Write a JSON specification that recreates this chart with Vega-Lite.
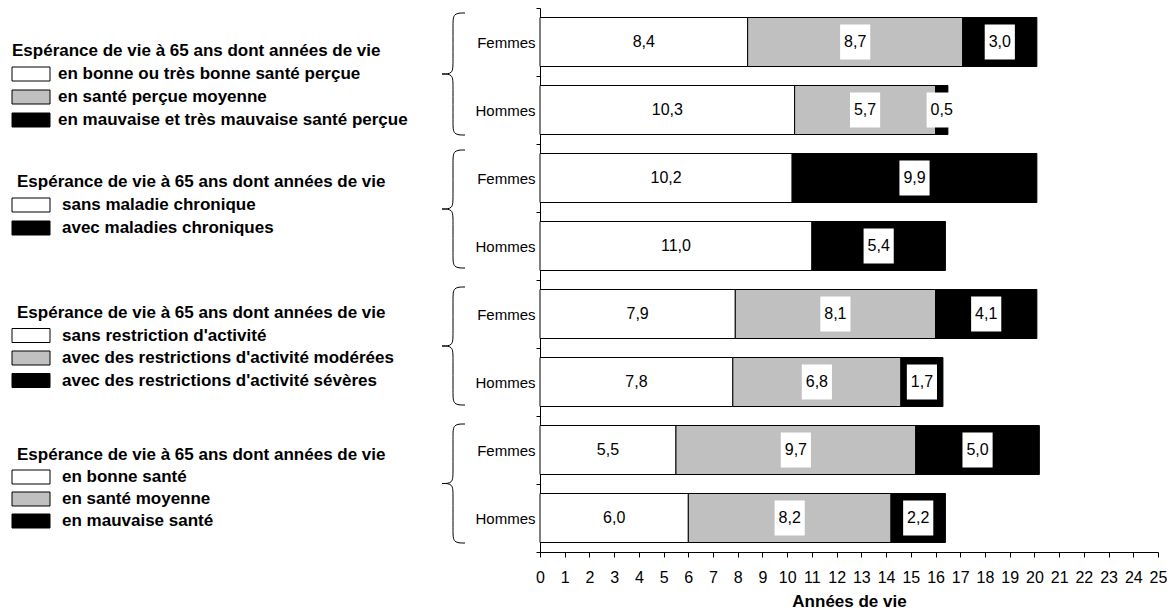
{
  "$schema": "https://vega.github.io/schema/vega-lite/v6.json",
  "width": 618,
  "height": 544,
  "padding": {"left": 11, "top": 1, "right": 0, "bottom": 0},
  "background": "white",
  "config": {
    "view": {"stroke": null},
    "font": "Liberation Sans"
  },
  "datasets": {
    "bars": [
      {"row": "1 Femmes", "cat": "a", "value": 8.4},
      {"row": "1 Femmes", "cat": "b", "value": 8.7},
      {"row": "1 Femmes", "cat": "c", "value": 3.0},
      {"row": "1 Hommes", "cat": "a", "value": 10.3},
      {"row": "1 Hommes", "cat": "b", "value": 5.7},
      {"row": "1 Hommes", "cat": "c", "value": 0.5},
      {"row": "2 Femmes", "cat": "a", "value": 10.2},
      {"row": "2 Femmes", "cat": "c", "value": 9.9},
      {"row": "2 Hommes", "cat": "a", "value": 11.0},
      {"row": "2 Hommes", "cat": "c", "value": 5.4},
      {"row": "3 Femmes", "cat": "a", "value": 7.9},
      {"row": "3 Femmes", "cat": "b", "value": 8.1},
      {"row": "3 Femmes", "cat": "c", "value": 4.1},
      {"row": "3 Hommes", "cat": "a", "value": 7.8},
      {"row": "3 Hommes", "cat": "b", "value": 6.8},
      {"row": "3 Hommes", "cat": "c", "value": 1.7},
      {"row": "4 Femmes", "cat": "a", "value": 5.5},
      {"row": "4 Femmes", "cat": "b", "value": 9.7},
      {"row": "4 Femmes", "cat": "c", "value": 5.0},
      {"row": "4 Hommes", "cat": "a", "value": 6.0},
      {"row": "4 Hommes", "cat": "b", "value": 8.2},
      {"row": "4 Hommes", "cat": "c", "value": 2.2}
    ],
    "legendtext": [
      {"lx": 12, "ly": 43, "label": "Espérance de vie à 65 ans dont années de vie"},
      {"lx": 58, "ly": 66, "label": "en bonne ou très bonne santé perçue"},
      {"lx": 58, "ly": 89, "label": "en santé perçue moyenne"},
      {"lx": 58, "ly": 112, "label": "en mauvaise et très mauvaise santé perçue"},
      {"lx": 17, "ly": 174, "label": "Espérance de vie à 65 ans dont années de vie"},
      {"lx": 62, "ly": 197, "label": "sans maladie chronique"},
      {"lx": 62, "ly": 220, "label": "avec maladies chroniques"},
      {"lx": 17, "ly": 305, "label": "Espérance de vie à 65 ans dont années de vie"},
      {"lx": 62, "ly": 327.5, "label": "sans restriction d'activité"},
      {"lx": 62, "ly": 350, "label": "avec des restrictions d'activité modérées"},
      {"lx": 62, "ly": 372.5, "label": "avec des restrictions d'activité sévères"},
      {"lx": 17, "ly": 447, "label": "Espérance de vie à 65 ans dont années de vie"},
      {"lx": 62, "ly": 469, "label": "en bonne santé"},
      {"lx": 62, "ly": 491, "label": "en santé moyenne"},
      {"lx": 62, "ly": 513, "label": "en mauvaise santé"}
    ],
    "swatch": [
      {"sx0": 12, "sx1": 50, "sy0": 59, "sy1": 73, "cat": "a"},
      {"sx0": 12, "sx1": 50, "sy0": 82, "sy1": 96, "cat": "b"},
      {"sx0": 12, "sx1": 50, "sy0": 105, "sy1": 119, "cat": "c"},
      {"sx0": 12, "sx1": 50, "sy0": 190, "sy1": 204, "cat": "a"},
      {"sx0": 12, "sx1": 50, "sy0": 213, "sy1": 227, "cat": "c"},
      {"sx0": 12, "sx1": 50, "sy0": 320.5, "sy1": 334.5, "cat": "a"},
      {"sx0": 12, "sx1": 50, "sy0": 343, "sy1": 357, "cat": "b"},
      {"sx0": 12, "sx1": 50, "sy0": 365.5, "sy1": 379.5, "cat": "c"},
      {"sx0": 12, "sx1": 50, "sy0": 462, "sy1": 476, "cat": "a"},
      {"sx0": 12, "sx1": 50, "sy0": 484, "sy1": 498, "cat": "b"},
      {"sx0": 12, "sx1": 50, "sy0": 506, "sy1": 520, "cat": "c"}
    ],
    "brace": [
      {"seg": "1t", "o": 0, "bx": 465, "by": 5},
      {"seg": "1t", "o": 1, "bx": 453, "by": 5},
      {"seg": "1t", "o": 2, "bx": 453, "by": 16},
      {"seg": "1t", "o": 3, "bx": 453, "by": 55},
      {"seg": "1t", "o": 4, "bx": 453, "by": 66},
      {"seg": "1t", "o": 5, "bx": 442, "by": 66},
      {"seg": "1b", "o": 0, "bx": 442, "by": 66},
      {"seg": "1b", "o": 1, "bx": 453, "by": 66},
      {"seg": "1b", "o": 2, "bx": 453, "by": 77},
      {"seg": "1b", "o": 3, "bx": 453, "by": 116},
      {"seg": "1b", "o": 4, "bx": 453, "by": 127},
      {"seg": "1b", "o": 5, "bx": 465, "by": 127},
      {"seg": "2t", "o": 0, "bx": 465, "by": 142},
      {"seg": "2t", "o": 1, "bx": 453, "by": 142},
      {"seg": "2t", "o": 2, "bx": 453, "by": 153},
      {"seg": "2t", "o": 3, "bx": 453, "by": 190},
      {"seg": "2t", "o": 4, "bx": 453, "by": 201},
      {"seg": "2t", "o": 5, "bx": 442, "by": 201},
      {"seg": "2b", "o": 0, "bx": 442, "by": 201},
      {"seg": "2b", "o": 1, "bx": 453, "by": 201},
      {"seg": "2b", "o": 2, "bx": 453, "by": 212},
      {"seg": "2b", "o": 3, "bx": 453, "by": 249},
      {"seg": "2b", "o": 4, "bx": 453, "by": 260},
      {"seg": "2b", "o": 5, "bx": 465, "by": 260},
      {"seg": "3t", "o": 0, "bx": 465, "by": 279},
      {"seg": "3t", "o": 1, "bx": 453, "by": 279},
      {"seg": "3t", "o": 2, "bx": 453, "by": 290},
      {"seg": "3t", "o": 3, "bx": 453, "by": 327},
      {"seg": "3t", "o": 4, "bx": 453, "by": 338},
      {"seg": "3t", "o": 5, "bx": 442, "by": 338},
      {"seg": "3b", "o": 0, "bx": 442, "by": 338},
      {"seg": "3b", "o": 1, "bx": 453, "by": 338},
      {"seg": "3b", "o": 2, "bx": 453, "by": 349},
      {"seg": "3b", "o": 3, "bx": 453, "by": 386},
      {"seg": "3b", "o": 4, "bx": 453, "by": 397},
      {"seg": "3b", "o": 5, "bx": 465, "by": 397},
      {"seg": "4t", "o": 0, "bx": 465, "by": 416},
      {"seg": "4t", "o": 1, "bx": 453, "by": 416},
      {"seg": "4t", "o": 2, "bx": 453, "by": 427},
      {"seg": "4t", "o": 3, "bx": 453, "by": 464.5},
      {"seg": "4t", "o": 4, "bx": 453, "by": 475.5},
      {"seg": "4t", "o": 5, "bx": 442, "by": 475.5},
      {"seg": "4b", "o": 0, "bx": 442, "by": 475.5},
      {"seg": "4b", "o": 1, "bx": 453, "by": 475.5},
      {"seg": "4b", "o": 2, "bx": 453, "by": 486.5},
      {"seg": "4b", "o": 3, "bx": 453, "by": 524},
      {"seg": "4b", "o": 4, "bx": 453, "by": 535},
      {"seg": "4b", "o": 5, "bx": 465, "by": 535}
    ]
  },
  "resolve": {
    "scale": {"x": "independent", "y": "independent"},
    "axis": {"x": "independent", "y": "independent"}
  },
  "layer": [
    {
      "data": {"name": "bars"},
      "transform": [
        {"window": [{"op": "sum", "field": "value", "as": "x1"}], "groupby": ["row"], "sort": [{"field": "cat", "order": "ascending"}], "frame": [null, 0]},
        {"calculate": "datum.x1 - datum.value", "as": "x0"},
        {"calculate": "datum.x1 - datum.value / 2", "as": "xm"},
        {"calculate": "datum.xm - 0.61", "as": "bx0"},
        {"calculate": "datum.xm + 0.61", "as": "bx1"},
        {"calculate": "replace(format(datum.value, '.1f'), '.', ',')", "as": "lab"}
      ],
      "encoding": {
        "y": {
          "field": "row", "type": "nominal", "sort": "ascending",
          "scale": {"paddingInner": 0, "paddingOuter": 0},
          "axis": {
            "title": null, "tickBand": "extent", "tickSize": 4, "labelPadding": 1,
            "labelExpr": "datum.value != null && length(datum.value + '') > 2 && datum.value != 'undefined' ? substring(datum.value, 2) : ''",
            "labelFontSize": 15, "labelColor": "black",
            "domainColor": "black", "tickColor": "black", "grid": false
          }
        }
      },
      "layer": [
        {
          "mark": {"type": "bar", "size": 49, "stroke": "black", "strokeWidth": 1},
          "encoding": {
            "x": {
              "field": "x0", "type": "quantitative",
              "scale": {"domain": [0, 25], "nice": false},
              "axis": {
                "title": "Années de vie", "tickCount": 25, "grid": false, "tickSize": 5,
                "labelFontSize": 16, "labelPadding": 12, "labelColor": "black", "labelFlush": false,
                "labelOverlap": false, "labelAngle": 0, "domainColor": "black", "tickColor": "black",
                "titleFontSize": 17, "titleFontWeight": "bold", "titleColor": "black", "titlePadding": 8
              }
            },
            "x2": {"field": "x1"},
            "fill": {"field": "cat", "type": "nominal", "scale": {"domain": ["a", "b", "c"], "range": ["white", "#c0c0c0", "black"]}, "legend": null}
          }
        },
        {
          "transform": [{"filter": "datum.cat != 'a'"}],
          "mark": {"type": "bar", "size": 35, "color": "white", "strokeWidth": 0},
          "encoding": {
            "x": {"field": "bx0", "type": "quantitative"},
            "x2": {"field": "bx1"}
          }
        },
        {
          "mark": {"type": "text", "fontSize": 16, "color": "black", "baseline": "middle"},
          "encoding": {
            "x": {"field": "xm", "type": "quantitative"},
            "text": {"field": "lab", "type": "nominal"}
          }
        }
      ]
    },
    {
      "layer": [
        {
          "data": {"name": "legendtext"},
          "mark": {"type": "text", "align": "left", "baseline": "middle", "fontSize": 17, "fontWeight": "bold", "color": "black"},
          "encoding": {
            "x": {"field": "lx", "type": "quantitative", "scale": {"domain": [540, 1158], "nice": false, "zero": false}, "axis": null},
            "y": {"field": "ly", "type": "quantitative", "scale": {"domain": [0, 544], "nice": false, "zero": false, "reverse": true}, "axis": null},
            "text": {"field": "label", "type": "nominal"}
          }
        },
        {
          "data": {"name": "swatch"},
          "mark": {"type": "rect", "stroke": "black", "strokeWidth": 1},
          "encoding": {
            "x": {"field": "sx0", "type": "quantitative"},
            "x2": {"field": "sx1"},
            "y": {"field": "sy0", "type": "quantitative"},
            "y2": {"field": "sy1"},
            "fill": {"field": "cat", "type": "nominal", "scale": {"domain": ["a", "b", "c"], "range": ["white", "#c0c0c0", "black"]}, "legend": null}
          }
        },
        {
          "data": {"name": "brace"},
          "mark": {"type": "line", "interpolate": "basis", "color": "black", "strokeWidth": 1},
          "encoding": {
            "x": {"field": "bx", "type": "quantitative"},
            "y": {"field": "by", "type": "quantitative"},
            "detail": {"field": "seg", "type": "nominal"},
            "order": {"field": "o", "type": "quantitative"}
          }
        }
      ]
    }
  ]
}
